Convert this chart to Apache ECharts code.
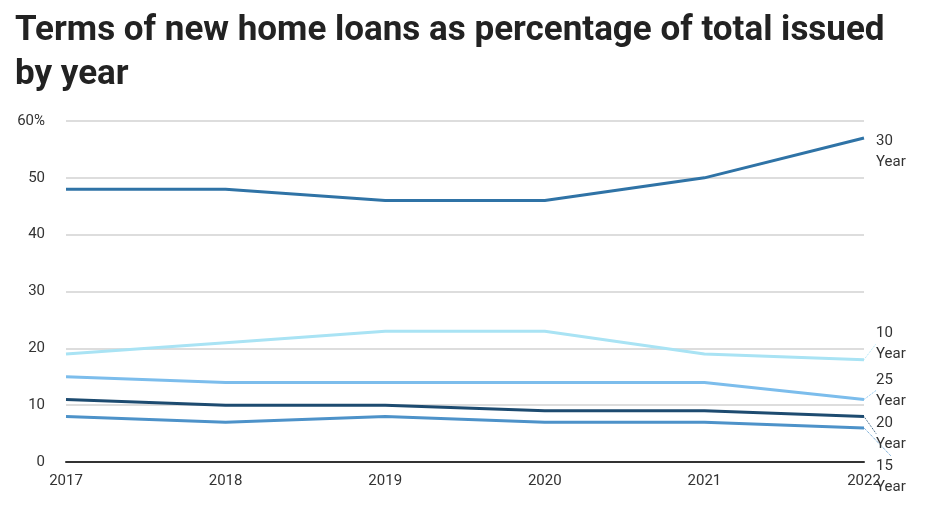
<!DOCTYPE html>
<html><head><meta charset="utf-8">
<script src="https://cdn.jsdelivr.net/npm/echarts@6/dist/echarts.min.js"></script>
<style>body{margin:0}#c{width:946px;height:526px}</style>
</head><body><div id="c"></div>
<script>
const years = ['2017', '2018', '2019', '2020', '2021', '2022']
const y30 = [48, 48, 46, 46, 50, 57]
const y10 = [19, 21, 23, 23, 19, 18]
const y25 = [15, 14, 14, 14, 14, 11]
const y20 = [11, 10, 10, 9, 9, 8]
const y15 = [8, 7, 8, 7, 7, 6]

function mk(name, data, color, dy, line) {
	const d = data.map((v, i) => i < data.length - 1 ? v : {
		value: v,
		label: { show: true, formatter: name.replace(' ', '\n') },
		labelLine: { show: line, lineStyle: { type: 'dotted', color: color, width: 1 } }
	})
	return {
		name: name, type: 'line', data: d, symbol: 'circle', symbolSize: 0.1, showSymbol: true,
		lineStyle: { color: color, width: 3 }, itemStyle: { color: color },
		label: { show: false, position: 'right', distance: 12, color: '#333', fontSize: 15, lineHeight: 21, fontFamily: 'Roboto' },
		labelLayout: { dy: dy },
		silent: true
	}
}

const chart = echarts.init(document.getElementById('c'))
chart.setOption({
	animation: false,
	title: {
		text: 'Terms of new home loans as percentage of total issued\nby year',
		left: 10, top: 4,
		textStyle: { fontSize: 35, fontWeight: 'bold', color: '#222', lineHeight: 44, fontFamily: 'Roboto' }
	},
	grid: { left: 66, right: 82, top: 121, bottom: 64 },
	xAxis: {
		type: 'category', data: years, boundaryGap: false,
		axisLine: { lineStyle: { color: '#333', width: 2 } },
		axisTick: { show: false },
		axisLabel: { color: '#333', fontSize: 15, fontFamily: 'Roboto', margin: 12 }
	},
	yAxis: {
		type: 'value', min: 0, max: 60, interval: 10,
		axisLabel: { color: '#333', fontSize: 15, fontFamily: 'Roboto', margin: 21,
			formatter: v => v === 60 ? '60%' : v },
		splitLine: { lineStyle: { color: '#ddd', width: 2 } }
	},
	series: [
		mk('30 Year', y30, '#2f73a6', 14, false),
		mk('10 Year', y10, '#a9e3f4', -16, true),
		mk('25 Year', y25, '#7cbdec', -9, true),
		mk('20 Year', y20, '#1d4b70', 17, true),
		mk('15 Year', y15, '#4d92c9', 49, true)
	]
})
</script></body></html>
